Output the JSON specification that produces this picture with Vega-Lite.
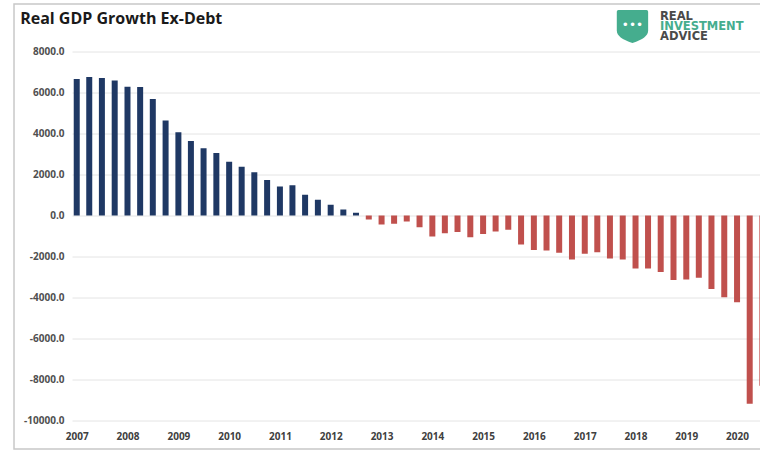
{
  "$schema": "https://vega.github.io/schema/vega-lite/v6.json",
  "width": 688,
  "height": 369,
  "autosize": {"type": "none"},
  "padding": {"left": 72, "top": 51.5, "right": 0, "bottom": 29.5},
  "background": "white",
  "config": {
    "view": {"stroke": null},
    "axis": {"labelFont": "Open Sans"}
  },
  "data": {
    "values": [
      {"date": "2007-01-01T00:00", "v": 6660},
      {"date": "2007-04-01T00:00", "v": 6760},
      {"date": "2007-07-01T00:00", "v": 6710},
      {"date": "2007-10-01T00:00", "v": 6580},
      {"date": "2008-01-01T00:00", "v": 6280},
      {"date": "2008-04-01T00:00", "v": 6270},
      {"date": "2008-07-01T00:00", "v": 5680},
      {"date": "2008-10-01T00:00", "v": 4640},
      {"date": "2009-01-01T00:00", "v": 4060},
      {"date": "2009-04-01T00:00", "v": 3630},
      {"date": "2009-07-01T00:00", "v": 3280},
      {"date": "2009-10-01T00:00", "v": 3050},
      {"date": "2010-01-01T00:00", "v": 2620},
      {"date": "2010-04-01T00:00", "v": 2380},
      {"date": "2010-07-01T00:00", "v": 2110},
      {"date": "2010-10-01T00:00", "v": 1730},
      {"date": "2011-01-01T00:00", "v": 1420},
      {"date": "2011-04-01T00:00", "v": 1470},
      {"date": "2011-07-01T00:00", "v": 1010},
      {"date": "2011-10-01T00:00", "v": 770},
      {"date": "2012-01-01T00:00", "v": 520},
      {"date": "2012-04-01T00:00", "v": 290},
      {"date": "2012-07-01T00:00", "v": 130},
      {"date": "2012-10-01T00:00", "v": -200},
      {"date": "2013-01-01T00:00", "v": -440},
      {"date": "2013-04-01T00:00", "v": -400},
      {"date": "2013-07-01T00:00", "v": -290},
      {"date": "2013-10-01T00:00", "v": -570},
      {"date": "2014-01-01T00:00", "v": -1020},
      {"date": "2014-04-01T00:00", "v": -860},
      {"date": "2014-07-01T00:00", "v": -810},
      {"date": "2014-10-01T00:00", "v": -1060},
      {"date": "2015-01-01T00:00", "v": -900},
      {"date": "2015-04-01T00:00", "v": -780},
      {"date": "2015-07-01T00:00", "v": -700},
      {"date": "2015-10-01T00:00", "v": -1420},
      {"date": "2016-01-01T00:00", "v": -1680},
      {"date": "2016-04-01T00:00", "v": -1710},
      {"date": "2016-07-01T00:00", "v": -1820},
      {"date": "2016-10-01T00:00", "v": -2150},
      {"date": "2017-01-01T00:00", "v": -1870},
      {"date": "2017-04-01T00:00", "v": -1790},
      {"date": "2017-07-01T00:00", "v": -2100},
      {"date": "2017-10-01T00:00", "v": -2150},
      {"date": "2018-01-01T00:00", "v": -2590},
      {"date": "2018-04-01T00:00", "v": -2580},
      {"date": "2018-07-01T00:00", "v": -2760},
      {"date": "2018-10-01T00:00", "v": -3150},
      {"date": "2019-01-01T00:00", "v": -3120},
      {"date": "2019-04-01T00:00", "v": -3040},
      {"date": "2019-07-01T00:00", "v": -3580},
      {"date": "2019-10-01T00:00", "v": -3990},
      {"date": "2020-01-01T00:00", "v": -4230},
      {"date": "2020-04-01T00:00", "v": -9180},
      {"date": "2020-07-01T00:00", "v": -8300}
    ]
  },
  "layer": [
    {
      "data": {"values": [{}]},
      "mark": {"type": "rect", "fill": null, "stroke": "#c8c8c8", "strokeWidth": 1.5, "clip": false},
      "encoding": {
        "x": {"datum": {"year": 2005, "month": 10, "date": 7}, "type": "temporal"},
        "x2": {"datum": {"year": 2021, "month": 6, "date": 1}},
        "y": {"datum": 10317, "type": "quantitative"},
        "y2": {"datum": -11390}
      }
    },
    {
      "data": {"values": [{}]},
      "mark": {"type": "text", "text": "Real GDP Growth Ex-Debt", "font": "Open Sans", "fontSize": 16, "fontWeight": "bold", "color": "#1a1a1a", "align": "left", "baseline": "alphabetic"},
      "encoding": {
        "x": {"datum": {"year": 2005, "month": 11, "date": 20}, "type": "temporal"},
        "y": {"datum": 9341, "type": "quantitative"}
      }
    },
    {
      "mark": {"type": "bar", "size": 6, "clip": true},
      "encoding": {
        "x": {
          "field": "date",
          "type": "temporal",
          "scale": {
            "domain": [
              {"year": 2006, "month": 11, "date": 28},
              {"year": 2020, "month": 6, "date": 14}
            ],
            "nice": false,
            "padding": 0
          },
          "axis": {
            "title": null,
            "values": [
              {"year": 2007, "month": 1, "date": 1},
              {"year": 2008, "month": 1, "date": 1},
              {"year": 2009, "month": 1, "date": 1},
              {"year": 2010, "month": 1, "date": 1},
              {"year": 2011, "month": 1, "date": 1},
              {"year": 2012, "month": 1, "date": 1},
              {"year": 2013, "month": 1, "date": 1},
              {"year": 2014, "month": 1, "date": 1},
              {"year": 2015, "month": 1, "date": 1},
              {"year": 2016, "month": 1, "date": 1},
              {"year": 2017, "month": 1, "date": 1},
              {"year": 2018, "month": 1, "date": 1},
              {"year": 2019, "month": 1, "date": 1},
              {"year": 2020, "month": 1, "date": 1}
            ],
            "format": "%Y",
            "grid": false,
            "ticks": false,
            "domain": false,
            "labelFlush": false,
            "labelOverlap": false,
            "labelPadding": 11,
            "labelFontSize": 10,
            "labelFontWeight": "bold",
            "labelColor": "#404040"
          }
        },
        "y": {
          "field": "v",
          "type": "quantitative",
          "scale": {"domain": [-10000, 8000], "nice": false, "zero": false},
          "axis": {
            "title": null,
            "values": [-10000, -8000, -6000, -4000, -2000, 0, 2000, 4000, 6000, 8000],
            "labelExpr": "replace(format(datum.value, '.1f'), '\u2212', '-')",
            "ticks": false,
            "domain": false,
            "grid": true,
            "gridColor": "#e4e4e4",
            "gridWidth": 1,
            "labelPadding": 8,
            "labelFontSize": 10,
            "labelFontWeight": "bold",
            "labelColor": "#505050"
          }
        },
        "color": {
          "condition": {"test": "datum.v >= 0", "value": "#1f3864"},
          "value": "#c0504d"
        }
      }
    },
    {
      "data": {"values": [{}]},
      "mark": {
        "type": "point",
        "shape": "M-0.85,-1 L0.85,-1 Q0.95,-1 0.95,-0.9 L0.95,0.25 Q0.95,0.72 0,1 Q-0.95,0.72 -0.95,0.25 L-0.95,-0.9 Q-0.95,-1 -0.85,-1 Z",
        "size": 1089,
        "filled": true,
        "fill": "#45ad8e",
        "opacity": 1,
        "strokeWidth": 0
      },
      "encoding": {
        "x": {"datum": {"year": 2017, "month": 12, "date": 10}, "type": "temporal"},
        "y": {"datum": 9220, "type": "quantitative"}
      }
    },
    {
      "data": {"values": [{}]},
      "mark": {"type": "text", "text": "•••", "font": "DejaVu Sans", "fontSize": 12, "color": "white", "align": "center", "baseline": "middle"},
      "encoding": {
        "x": {"datum": {"year": 2017, "month": 12, "date": 10}, "type": "temporal"},
        "y": {"datum": 9300, "type": "quantitative"}
      }
    },
    {
      "data": {"values": [{}]},
      "mark": {"type": "text", "text": "REAL", "font": "DejaVu Sans", "fontSize": 11.5, "fontWeight": "bold", "color": "#4a4a4a", "align": "left", "baseline": "middle"},
      "encoding": {
        "x": {"datum": {"year": 2018, "month": 6, "date": 26}, "type": "temporal"},
        "y": {"datum": 9683, "type": "quantitative"}
      }
    },
    {
      "data": {"values": [{}]},
      "mark": {"type": "text", "text": "INVESTMENT", "font": "DejaVu Sans", "fontSize": 11.5, "fontWeight": "bold", "color": "#45ad8e", "align": "left", "baseline": "middle"},
      "encoding": {
        "x": {"datum": {"year": 2018, "month": 6, "date": 26}, "type": "temporal"},
        "y": {"datum": 9195, "type": "quantitative"}
      }
    },
    {
      "data": {"values": [{}]},
      "mark": {"type": "text", "text": "ADVICE", "font": "DejaVu Sans", "fontSize": 11.5, "fontWeight": "bold", "color": "#4a4a4a", "align": "left", "baseline": "middle"},
      "encoding": {
        "x": {"datum": {"year": 2018, "month": 6, "date": 26}, "type": "temporal"},
        "y": {"datum": 8707, "type": "quantitative"}
      }
    }
  ]
}
